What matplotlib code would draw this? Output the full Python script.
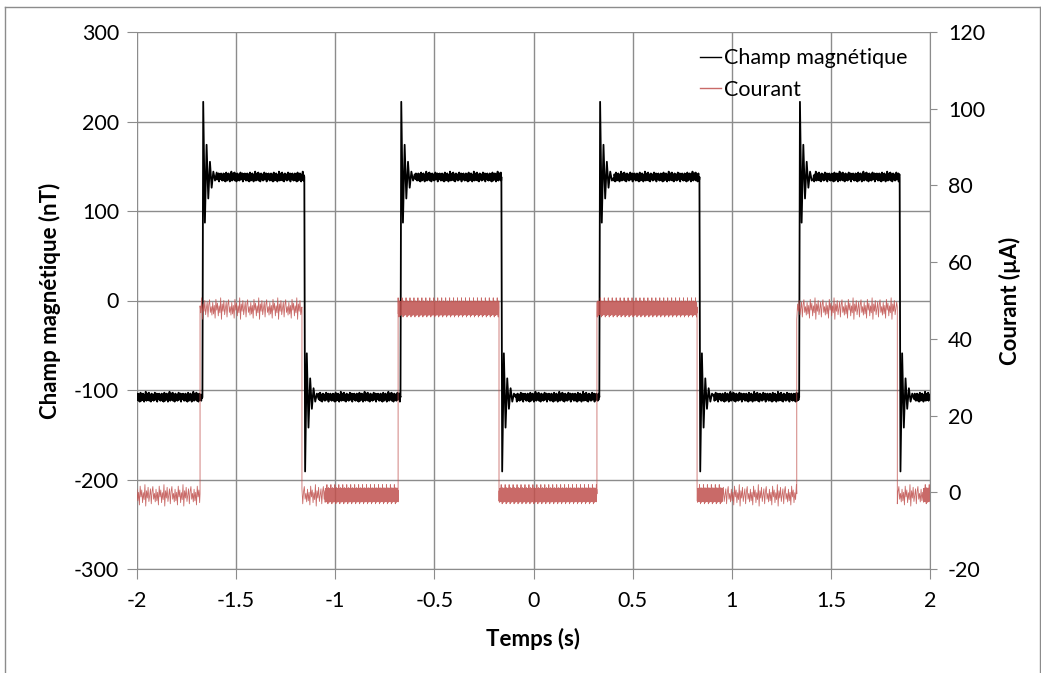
import matplotlib
matplotlib.use("Agg")
import matplotlib.pyplot as plt
from matplotlib.lines import Line2D

plt.rcParams["font.family"] = ["Lato", "DejaVu Sans"]
plt.rcParams["axes.unicode_minus"] = False

# switching instants of the current (s)
cur_rise = [-1.682, -0.683, 0.320, 1.328]
cur_fall = [-1.168, -0.174, 0.825, 1.835]
field_lag = 0.012  # the field edge comes a little after the current edge

field_low = -108
field_high = 138
current_low = -0.4
current_high = 48.3

# ringing extremes right after each edge (nT)
ring_rise = [222, 87, 174, 114, 155, 126, 144, 134]
ring_fall = [-191, -59, -142, -87, -121, -98, -113, -104]
ring_step = 0.0085

# ripple on the plateaus
field_ripple = [2, -3, 4, -1, -4, 3, 1, -5, 2, 5, -2, -4, 3, 0, -3, 4, -2, 2, -5, 1,
                3, -3, 6, -1, -4, 2, -2, 4, -3, 1, 5, -4, 0, 3, -2, -5, 2, 4, -1, -3,
                1, 3, -4, 2, -1, 5, -3, 0, 2, -2, 4, -5, 1, 3, -2, -1, 4, -3, 2, -4]
current_sparse = [1.2, -1.8, 0.4, -2.9, 2.0, -0.8, 1.0, -2.3, 0.3, -1.5, 2.4, -3.2,
                  0.8, -1.1, 1.7, -2.0, -0.3, 1.3, -2.6, 0.6, 1.9, -1.4, 0.1, -2.1]
current_dense = [1.4, -1.7, 1.1, -2.0, 1.5, -1.5, 0.9, -2.1, 2.4, -1.8, 1.2, -1.4,
                 1.3, -2.6, 1.0, -1.6, 1.6, -1.9, 0.8, -2.2]
# time windows where the current trace looks solid
dense_windows = [(-1.052, 0.954), (1.965, 2.0)]

t_start, t_end = -2.0, 2.0
edges = sorted([(t, 1) for t in cur_rise] + [(t, 0) for t in cur_fall])
bounds = [t_start] + [t for t, s in edges] + [t_end]
states = [0] + [s for t, s in edges]

# magnetic field trace
ft, fv = [], []
n = 0
for i, state in enumerate(states):
    a = bounds[i] + (field_lag if i > 0 else 0)
    b = bounds[i + 1] + (field_lag if i + 1 < len(bounds) - 1 else 0)
    level = field_high if state else field_low
    t = a
    if i > 0:
        ring = ring_rise if state else ring_fall
        for k, v in enumerate(ring):
            ft.append(a + 0.004 + k * ring_step)
            fv.append(v)
        t = a + 0.004 + len(ring) * ring_step
    while t < b:
        ft.append(t)
        fv.append(level + field_ripple[n % len(field_ripple)])
        n += 1
        t += 0.002
    ft.append(b)
    fv.append(level)

# current trace
ct, cv = [], []
n = 0
for i, state in enumerate(states):
    a, b = bounds[i], bounds[i + 1]
    level = current_high if state else current_low
    t = a
    while t < b:
        dense = any(lo <= t < hi for lo, hi in dense_windows)
        rip = current_dense if dense else current_sparse
        ct.append(t)
        cv.append(level + rip[n % len(rip)])
        n += 1
        t += 0.001 if dense else 0.004
    ct.append(b)
    cv.append(level)

fig = plt.figure(figsize=(10.41, 6.73), dpi=100)
ax = fig.add_axes([137 / 1041, 1 - 569 / 673, 793 / 1041, 537 / 673])
ax2 = ax.twinx()

l1, = ax.plot(ft, fv, color="black", lw=1.3, label="Champ magnétique")
l2, = ax2.plot(ct, cv, color="#c0504d", lw=0.6, alpha=0.85, label="Courant")

ax.set_xlim(-2, 2)
ax.set_ylim(-300, 300)
ax2.set_ylim(-20, 120)
ax.set_xticks([-2, -1.5, -1, -0.5, 0, 0.5, 1, 1.5, 2])
ax.set_xticklabels(["-2", "-1.5", "-1", "-0.5", "0", "0.5", "1", "1.5", "2"])
ax.set_yticks(range(-300, 301, 100))
ax2.set_yticks(range(-20, 121, 20))
ax.grid(True, color="#8c8c8c", lw=1.0)
ax.set_axisbelow(True)

for a in (ax, ax2):
    for s in a.spines.values():
        s.set_visible(False)
ax.spines["bottom"].set_visible(True)
ax.spines["bottom"].set_color("#8c8c8c")
ax2.spines["right"].set_visible(True)
ax2.spines["right"].set_color("#8c8c8c")

ax.tick_params(axis="both", labelsize=15.5, color="#8c8c8c", length=7, pad=6)
ax.tick_params(axis="x", pad=9)
ax2.tick_params(axis="y", labelsize=15.5, color="#8c8c8c", length=5, pad=8)

ax.set_xlabel("Temps (s)", fontsize=16, fontweight="bold", labelpad=12)
ax.set_ylabel("Champ magnétique (nT)", fontsize=16, fontweight="bold", labelpad=9)
ax2.set_ylabel("Courant (µA)", fontsize=16, fontweight="bold", labelpad=10)

leg = ax2.legend([l1, l2], ["Champ magnétique", "Courant"], loc="upper left",
                 bbox_to_anchor=(0.696, 0.99), frameon=False, fontsize=15.5,
                 handlelength=1.0, handletextpad=0.15, borderpad=0, labelspacing=0.55)
for h in leg.get_lines():
    h.set_linewidth(1.0)

# outer frame of the chart
for xs, ys in [((5, 1040), (7, 7)), ((5, 5), (7, 673)), ((1040, 1040), (7, 673))]:
    fig.add_artist(Line2D([x / 1041 for x in xs], [1 - y / 673 for y in ys],
                          color="#8c8c8c", lw=1.0))

fig.savefig("out.png", dpi=100)
